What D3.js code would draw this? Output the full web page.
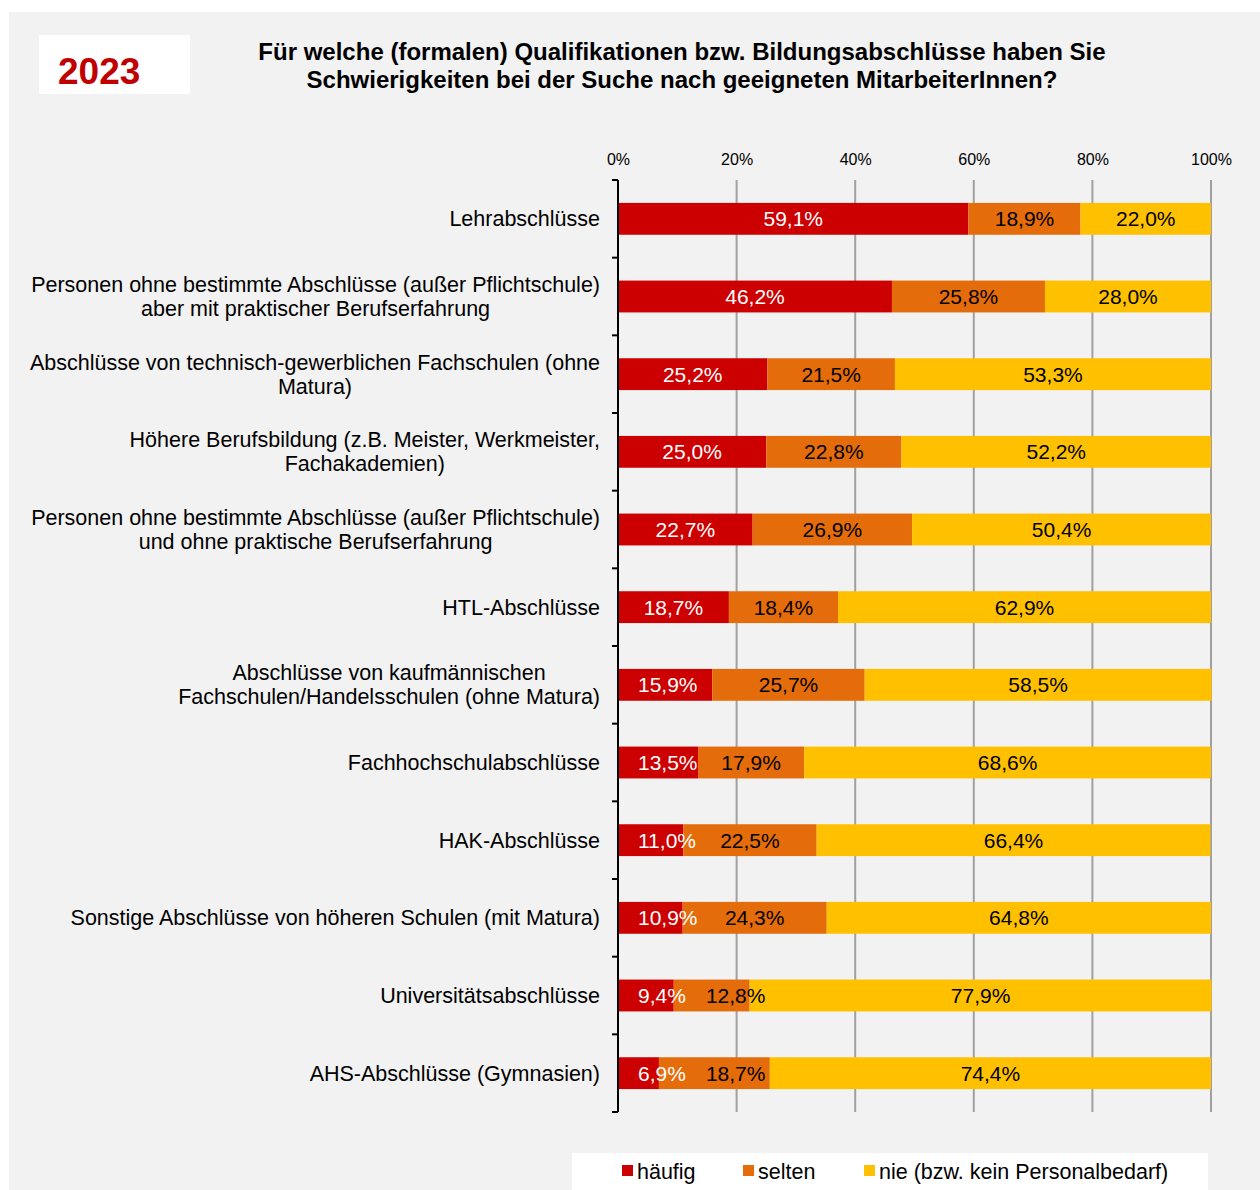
<!DOCTYPE html>
<html>
<head>
<meta charset="utf-8">
<script src="https://cdn.jsdelivr.net/npm/d3@7"></script>
<style>
  body { margin: 0; background: #ffffff; }
  text { font-family: "Liberation Sans", Arial, sans-serif; }
</style>
</head>
<body>
<svg id="chart"></svg>
<script>
// categories (top to bottom)
var categories = [
  ["Lehrabschlüsse"],
  ["Personen ohne bestimmte Abschlüsse (außer Pflichtschule)", "aber mit praktischer Berufserfahrung"],
  ["Abschlüsse von technisch-gewerblichen Fachschulen (ohne", "Matura)"],
  ["Höhere Berufsbildung (z.B. Meister, Werkmeister,", "Fachakademien)"],
  ["Personen ohne bestimmte Abschlüsse (außer Pflichtschule)", "und ohne praktische Berufserfahrung"],
  ["HTL-Abschlüsse"],
  ["Abschlüsse von kaufmännischen", "Fachschulen/Handelsschulen (ohne Matura)"],
  ["Fachhochschulabschlüsse"],
  ["HAK-Abschlüsse"],
  ["Sonstige Abschlüsse von höheren Schulen (mit Matura)"],
  ["Universitätsabschlüsse"],
  ["AHS-Abschlüsse (Gymnasien)"]
]

var haeufig = [59.1, 46.2, 25.2, 25.0, 22.7, 18.7, 15.9, 13.5, 11.0, 10.9, 9.4, 6.9]
var selten  = [18.9, 25.8, 21.5, 22.8, 26.9, 18.4, 25.7, 17.9, 22.5, 24.3, 12.8, 18.7]
var nie     = [22.0, 28.0, 53.3, 52.2, 50.4, 62.9, 58.5, 68.6, 66.4, 64.8, 77.9, 74.4]

var seriesNames = ["häufig", "selten", "nie (bzw. kein Personalbedarf)"]
var tickValues = [0, 20, 40, 60, 80, 100]

var titleLines = [
  "Für welche (formalen) Qualifikationen bzw. Bildungsabschlüsse haben Sie",
  "Schwierigkeiten bei der Suche nach geeigneten MitarbeiterInnen?"
]
var yearLabel = "2023"

var colors = ["#cc0000", "#e46c0a", "#ffc000"]
var labelColors = ["#ffffff", "#000000", "#000000"]

var dimensions = {
  width: 1260,
  height: 1190,
  margin: { top: 180, bottom: 78, left: 618, right: 49 }
}
dimensions.boundedWidth = dimensions.width - dimensions.margin.left - dimensions.margin.right
dimensions.boundedHeight = dimensions.height - dimensions.margin.top - dimensions.margin.bottom

var svg = d3.select("#chart")
  .attr("width", dimensions.width)
  .attr("height", dimensions.height)

// grey panel
svg.append("rect")
  .attr("x", 9).attr("y", 12)
  .attr("width", 1251).attr("height", 1178)
  .attr("fill", "#f2f2f2")

// year box
svg.append("rect")
  .attr("x", 39).attr("y", 35)
  .attr("width", 151).attr("height", 59)
  .attr("fill", "#ffffff")
svg.append("text")
  .attr("x", 58).attr("y", 84)
  .text(yearLabel)
  .style("font-size", "37px")
  .style("font-weight", "bold")
  .attr("fill", "#c00000")

// title
svg.selectAll(".title")
  .data(titleLines)
  .enter()
  .append("text")
  .attr("class", "title")
  .attr("x", 682)
  .attr("y", (d, i) => 60 + i * 28)
  .attr("text-anchor", "middle")
  .style("font-size", "24px")
  .style("font-weight", "bold")
  .text(d => d)

var stacked = categories.map((c, i) => {
  var vals = [haeufig[i], selten[i], nie[i]]
  var x0 = 0
  return vals.map((v, k) => {
    var seg = { cat: i, series: k, value: v, start: x0, end: x0 + v }
    x0 += v
    return seg
  })
})

var xScale = d3.scaleLinear()
  .domain([0, 100])
  .range([0, dimensions.boundedWidth])

var yScale = d3.scaleBand()
  .domain(d3.range(categories.length))
  .range([0, dimensions.boundedHeight])
  .paddingInner(0.59)
  .paddingOuter(0.295)

var bounds = svg.append("g")
  .attr("transform", `translate(${dimensions.margin.left},${dimensions.margin.top})`)

// vertical grid lines
bounds.selectAll(".grid")
  .data(tickValues.slice(1))
  .enter()
  .append("line")
  .attr("class", "grid")
  .attr("x1", d => xScale(d)).attr("x2", d => xScale(d))
  .attr("y1", 0).attr("y2", dimensions.boundedHeight)
  .attr("stroke", "#a0a0a0")
  .attr("stroke-width", 2)

// top tick labels
var xAxis = d3.axisTop(xScale)
  .tickValues(tickValues)
  .tickFormat(d => d + "%")
  .tickSize(0)
  .tickPadding(0)

bounds.append("g")
  .attr("transform", "translate(0,-15)")
  .call(xAxis)
  .call(g => g.select(".domain").remove())
  .selectAll("text")
  .style("font-family", "'Liberation Sans', Arial, sans-serif")
  .style("font-size", "16px")
  .attr("fill", "#000")

// bars
var rows = bounds.selectAll(".row")
  .data(stacked)
  .enter()
  .append("g")
  .attr("class", "row")
  .attr("transform", (d, i) => `translate(0,${yScale(i)})`)

rows.selectAll("rect")
  .data(d => d)
  .enter()
  .append("rect")
  .attr("x", d => xScale(d.start))
  .attr("width", d => xScale(d.end) - xScale(d.start))
  .attr("height", yScale.bandwidth())
  .attr("fill", d => colors[d.series])

// value labels: small red labels kept off the axis, orange labels pushed past the red ones
rows.each(function(segs) {
  var row = d3.select(this)
  var prevEnd = -Infinity
  segs.forEach(d => {
    var t = row.append("text")
      .attr("class", "val")
      .attr("y", yScale.bandwidth() / 2)
      .attr("dy", "0.36em")
      .attr("text-anchor", "middle")
      .attr("fill", labelColors[d.series])
      .style("font-size", "21px")
      .text(d.value.toFixed(1).replace(".", ",") + "%")
    var w = t.node().getComputedTextLength()
    var c = xScale((d.start + d.end) / 2)
    if (d.series == 0) c = Math.max(c, 20 + w / 2)
    if (d.series == 1) c = Math.max(c, prevEnd + 20 + w / 2)
    t.attr("x", c)
    prevEnd = c + w / 2
  })
})

// y axis with ticks between categories
var yAxisG = bounds.append("g")
yAxisG.append("line")
  .attr("x1", 0).attr("x2", 0)
  .attr("y1", 0).attr("y2", dimensions.boundedHeight)
  .attr("stroke", "#000").attr("stroke-width", 2)
yAxisG.selectAll(".ytick")
  .data(d3.range(categories.length + 1))
  .enter()
  .append("line")
  .attr("x1", -6).attr("x2", 0)
  .attr("y1", d => d * yScale.step())
  .attr("y2", d => d * yScale.step())
  .attr("stroke", "#000").attr("stroke-width", 2)

// category labels: block right-aligned to the axis, lines centred inside the block
var catLabels = bounds.selectAll(".cat")
  .data(categories)
  .enter()
  .append("text")
  .attr("class", "cat")
  .attr("text-anchor", "middle")
  .style("font-size", "21.5px")
  .attr("transform", (d, i) => `translate(-18,${yScale(i) + yScale.bandwidth() / 2})`)

catLabels.selectAll("tspan")
  .data(d => d.map((line, j) => ({ line: line, j: j, n: d.length })))
  .enter()
  .append("tspan")
  .attr("y", d => (d.j - (d.n - 1) / 2) * 24)
  .attr("dy", "0.35em")
  .text(d => d.line)

catLabels.each(function() {
  var spans = d3.select(this).selectAll("tspan")
  var maxW = d3.max(spans.nodes(), n => n.getComputedTextLength())
  spans.attr("x", -maxW / 2)
})

// legend
var legend = svg.append("g")
legend.append("rect")
  .attr("x", 572).attr("y", 1153)
  .attr("width", 636).attr("height", 37)
  .attr("fill", "#ffffff")

var legendX = [622, 743, 864]
var items = legend.selectAll(".item")
  .data(seriesNames)
  .enter()
  .append("g")
  .attr("class", "item")
  .attr("transform", (d, i) => `translate(${legendX[i]},1171)`)
items.append("rect")
  .attr("x", 0).attr("y", -6)
  .attr("width", 11).attr("height", 11)
  .attr("fill", (d, i) => colors[i])
items.append("text")
  .attr("x", 15)
  .attr("dy", "0.35em")
  .style("font-size", "21.5px")
  .text(d => d)
</script>
</body>
</html>
